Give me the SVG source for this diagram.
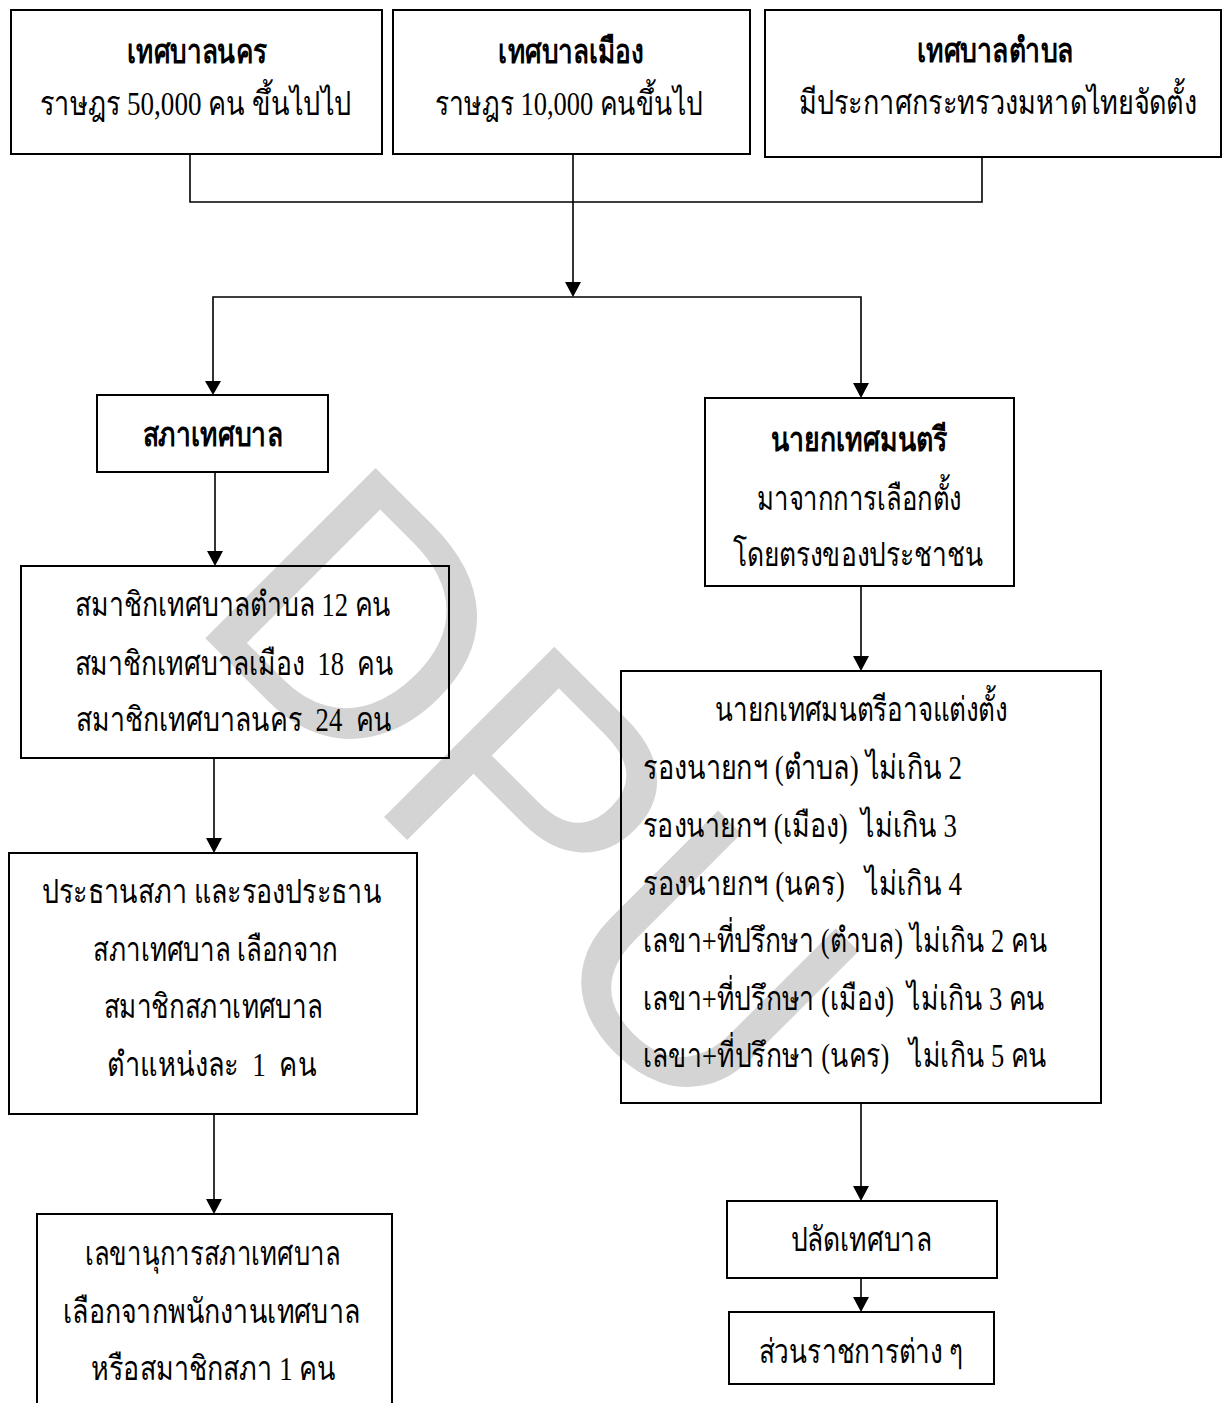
<svg xmlns="http://www.w3.org/2000/svg" width="1223" height="1403" viewBox="0 0 1223 1403">
<style>
.box{fill:none;stroke:#000;stroke-width:2}
.ln{fill:none;stroke:#000;stroke-width:1.6}
.t{font-family:"Liberation Serif",serif;font-size:34px;fill:#000;white-space:pre}
.c{text-anchor:middle}
.b{font-weight:bold}
.wm{font-family:"Liberation Sans",sans-serif;font-size:350px;fill:#d4d4d4}
</style>
<rect width="1223" height="1403" fill="#fff"/>
<g id="watermark">
<text class="wm" transform="translate(185,618) rotate(45)">DPU</text>
</g>
<g id="connectors">
<polyline class="ln" points="190,154 190,202 982,202 982,157"/>
<line class="ln" x1="573" y1="154" x2="573" y2="202"/>
<line class="ln" x1="573" y1="202" x2="573" y2="284"/>
<path d="M565,282 L581,282 L573,297 Z"/>
<polyline class="ln" points="213,382 213,297 861,297 861,385"/>
<path d="M205,381 L221,381 L213,395 Z"/>
<path d="M853,383 L869,383 L861,398 Z"/>
<line class="ln" x1="215" y1="472" x2="215" y2="552"/>
<path d="M207,551 L223,551 L215,566 Z"/>
<line class="ln" x1="214" y1="758" x2="214" y2="840"/>
<path d="M206,838 L222,838 L214,853 Z"/>
<line class="ln" x1="214" y1="1114" x2="214" y2="1200"/>
<path d="M206,1199 L222,1199 L214,1214 Z"/>
<line class="ln" x1="861" y1="586" x2="861" y2="658"/>
<path d="M853,656 L869,656 L861,671 Z"/>
<line class="ln" x1="861" y1="1103" x2="861" y2="1188"/>
<path d="M853,1186 L869,1186 L861,1201 Z"/>
<line class="ln" x1="861" y1="1278" x2="861" y2="1298"/>
<path d="M853,1297 L869,1297 L861,1312 Z"/>
</g>
<g id="n-nakhon">
<rect class="box" x="11" y="10" width="371" height="144"/>
<text class="t b c" transform="translate(197,63) scale(0.85,1)" textLength="164.7" lengthAdjust="spacingAndGlyphs">เทศบาลนคร</text>
<text class="t c" transform="translate(195.5,115) scale(0.85,1)" textLength="367" lengthAdjust="spacingAndGlyphs">ราษฎร 50,000 คน ขึ้นไปไป</text>
</g>
<g id="n-mueang">
<rect class="box" x="393" y="10" width="357" height="144"/>
<text class="t b c" transform="translate(571,63) scale(0.85,1)" textLength="170.6" lengthAdjust="spacingAndGlyphs">เทศบาลเมือง</text>
<text class="t c" transform="translate(569,115) scale(0.85,1)" textLength="315.3" lengthAdjust="spacingAndGlyphs">ราษฎร 10,000 คนขึ้นไป</text>
</g>
<g id="n-tambon">
<rect class="box" x="765" y="10" width="456" height="147"/>
<text class="t b c" transform="translate(995,62) scale(0.85,1)" textLength="184.7" lengthAdjust="spacingAndGlyphs">เทศบาลตำบล</text>
<text class="t c" transform="translate(997.5,114) scale(0.85,1)" textLength="468.2" lengthAdjust="spacingAndGlyphs">มีประกาศกระทรวงมหาดไทยจัดตั้ง</text>
</g>
<g id="n-sapha">
<rect class="box" x="97" y="395" width="231" height="77"/>
<text class="t b c" transform="translate(212.5,446) scale(0.85,1)" textLength="164.7" lengthAdjust="spacingAndGlyphs">สภาเทศบาล</text>
</g>
<g id="n-mayor">
<rect class="box" x="705" y="398" width="309" height="188"/>
<text class="t b c" transform="translate(859,451) scale(0.85,1)" textLength="208.2" lengthAdjust="spacingAndGlyphs">นายกเทศมนตรี</text>
<text class="t c" transform="translate(859,510) scale(0.85,1)" textLength="240" lengthAdjust="spacingAndGlyphs">มาจากการเลือกตั้ง</text>
<text class="t c" transform="translate(858,566) scale(0.85,1)" textLength="294.1" lengthAdjust="spacingAndGlyphs">โดยตรงของประชาชน</text>
</g>
<g id="n-members">
<rect class="box" x="21" y="566" width="428" height="192"/>
<text class="t c" transform="translate(233,616) scale(0.85,1)" textLength="371.8" lengthAdjust="spacingAndGlyphs">สมาชิกเทศบาลตำบล 12 คน</text>
<text class="t c" transform="translate(234,675) scale(0.85,1)" textLength="375.3" lengthAdjust="spacingAndGlyphs">สมาชิกเทศบาลเมือง  18  คน</text>
<text class="t c" transform="translate(234,731) scale(0.85,1)" textLength="371.8" lengthAdjust="spacingAndGlyphs">สมาชิกเทศบาลนคร  24  คน</text>
</g>
<g id="n-appoint">
<rect class="box" x="621" y="671" width="480" height="432"/>
<text class="t c" transform="translate(861,721) scale(0.85,1)" textLength="343.5" lengthAdjust="spacingAndGlyphs">นายกเทศมนตรีอาจแต่งตั้ง</text>
<text class="t" transform="translate(643,779) scale(0.85,1)" textLength="375.3" lengthAdjust="spacingAndGlyphs">รองนายกฯ (ตำบล) ไม่เกิน 2</text>
<text class="t" transform="translate(643,837) scale(0.85,1)" textLength="369.4" lengthAdjust="spacingAndGlyphs">รองนายกฯ (เมือง)  ไม่เกิน 3</text>
<text class="t" transform="translate(643,895) scale(0.85,1)" textLength="375.3" lengthAdjust="spacingAndGlyphs">รองนายกฯ (นคร)   ไม่เกิน 4</text>
<text class="t" transform="translate(643,952) scale(0.85,1)" textLength="475.3" lengthAdjust="spacingAndGlyphs">เลขา+ที่ปรึกษา (ตำบล) ไม่เกิน 2 คน</text>
<text class="t" transform="translate(643,1010) scale(0.85,1)" textLength="472.9" lengthAdjust="spacingAndGlyphs">เลขา+ที่ปรึกษา (เมือง)  ไม่เกิน 3 คน</text>
<text class="t" transform="translate(643,1067) scale(0.85,1)" textLength="475.3" lengthAdjust="spacingAndGlyphs">เลขา+ที่ปรึกษา (นคร)   ไม่เกิน 5 คน</text>
</g>
<g id="n-president">
<rect class="box" x="9" y="853" width="408" height="261"/>
<text class="t c" transform="translate(211.5,903) scale(0.85,1)" textLength="400" lengthAdjust="spacingAndGlyphs">ประธานสภา และรองประธาน</text>
<text class="t c" transform="translate(215.5,961) scale(0.85,1)" textLength="288.2" lengthAdjust="spacingAndGlyphs">สภาเทศบาล เลือกจาก</text>
<text class="t c" transform="translate(213,1018) scale(0.85,1)" textLength="257.6" lengthAdjust="spacingAndGlyphs">สมาชิกสภาเทศบาล</text>
<text class="t c" transform="translate(212,1076) scale(0.85,1)" textLength="245.9" lengthAdjust="spacingAndGlyphs">ตำแหน่งละ  1  คน</text>
</g>
<g id="n-secretary">
<rect class="box" x="37" y="1214" width="355" height="220"/>
<text class="t c" transform="translate(212.5,1265) scale(0.85,1)" textLength="300" lengthAdjust="spacingAndGlyphs">เลขานุการสภาเทศบาล</text>
<text class="t c" transform="translate(211.5,1323) scale(0.85,1)" textLength="349.4" lengthAdjust="spacingAndGlyphs">เลือกจากพนักงานเทศบาล</text>
<text class="t c" transform="translate(213.5,1380) scale(0.85,1)" textLength="288.2" lengthAdjust="spacingAndGlyphs">หรือสมาชิกสภา 1 คน</text>
</g>
<g id="n-palat">
<rect class="box" x="727" y="1201" width="270" height="77"/>
<text class="t c" transform="translate(861,1251) scale(0.85,1)" textLength="165.9" lengthAdjust="spacingAndGlyphs">ปลัดเทศบาล</text>
</g>
<g id="n-divisions">
<rect class="box" x="729" y="1312" width="265" height="72"/>
<text class="t c" transform="translate(861,1363) scale(0.85,1)" textLength="241.2" lengthAdjust="spacingAndGlyphs">ส่วนราชการต่าง ๆ</text>
</g>
</svg>
